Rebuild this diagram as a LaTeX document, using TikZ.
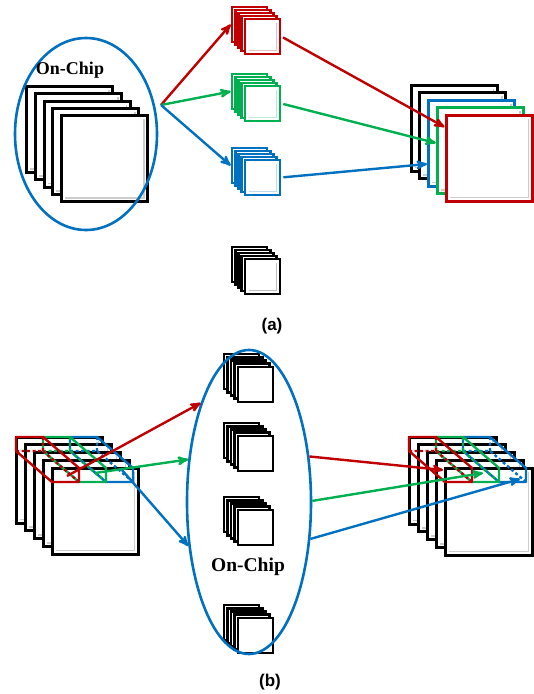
\documentclass[tikz,border=0pt]{standalone}
\usepackage{fontspec}
\usepackage{tikz}
\usetikzlibrary{arrows,shapes.geometric}
\newfontfamily\capfont{Liberation Sans}
\newfontfamily\chipfont{Liberation Serif}
\definecolor{cred}{RGB}{192,0,0}
\definecolor{cgreen}{RGB}{0,176,80}
\definecolor{cblue}{RGB}{0,112,192}
\tikzset{inshade/.style={path picture={\draw[#1,line width=1.8pt]
  ([xshift=-3.5pt,yshift=-3.5pt]path picture bounding box.north east) |-
  ([xshift=3.5pt,yshift=3.5pt]path picture bounding box.south west);}},
  inshade/.default=black!20}
\tikzstyle{fmap}  = [draw,fill=white,line width=3pt,minimum size=86pt,inner sep=0mm,inshade]
\tikzstyle{kmap}  = [draw,fill=white,line width=2.7pt,minimum size=35pt,inner sep=0mm]
\tikzstyle{chip}  = [draw=cblue,ellipse,line width=2.6pt,inner sep=0mm]
\tikzstyle{link}  = [->,>=stealth',line width=2.4pt]
\tikzstyle{hidden} = [line width=2.4pt,dash pattern=on 3pt off 2.5pt]
% one slice of the input maps: colour, top left corner of its back face
\newcommand{\featslice}[3]{%
  \draw[#1,hidden] (#2,#3+14) -- (#2+27,#3+14) -- (#2+63,#3+45) (#2+27,#3) -- (#2+27,#3+14);
  \draw[#1,line width=2.4pt,line join=round] (#2,#3) -- (#2+27,#3) -- (#2+63,#3+31)
    -- (#2+63,#3+45) -- (#2+36,#3+45) -- (#2,#3+14) -- cycle;}

\begin{document}
\begin{tikzpicture}[x=1pt,y=-1pt]
\useasboundingbox (0,0) rectangle (534,694);

% (a)
\foreach \k in {0,...,4}
  \node[fmap] (A\k) at (69.5+8.75*\k,129.5+7.25*\k) {};
\node[chip,minimum width=142pt,minimum height=192pt] (EA) at (86,134) {};
\node (chipA) at (70,70) {\chipfont\bfseries\fontsize{18}{20}\selectfont On-Chip};

\foreach \s/\c/\y in {R/cred/24.5,G/cgreen/91.5,B/cblue/165.5,K/black/264.5}
  \foreach \k in {0,...,4}
    \node[kmap,draw=\c,inshade=\c!25] (\s\k) at (249.5+3.25*\k,\y+3*\k) {};

\foreach \k/\c in {0/black,1/black,2/cblue,3/cgreen,4/cred}
  \node[fmap,draw=\c] (P\k) at (454+8.75*\k,128+7.5*\k) {};

\coordinate (F) at (161,105);
\draw[link,cred]   (F) -- (R0.west);
\draw[link,cgreen] (F) -- (G0.west);
\draw[link,cblue]  (F) -- (B0.west);
\draw[link,cred,shorten <=2pt]   (R4.east) -- ([yshift=31pt]P4.west);
\draw[link,cgreen,shorten <=2pt] (G4.east) -- ([yshift=7.5pt]P3.west);
\draw[link,cblue,shorten <=2pt]  (B4.east) -- ([yshift=-21pt]P2.west);

\node (capA) at (272,326) {\capfont\bfseries\fontsize{17}{19}\selectfont (a)};

% (b)
\foreach \k in {0,...,4}
  \node[fmap] (L\k) at (59+9*\k,480+7.75*\k) {};
\featslice{cblue}{70}{437}
\featslice{cgreen}{43}{437}
\featslice{cred}{16}{437}

\foreach \s/\y in {S/371.5,T/440.5,U/514.5,V/622.5}
  \foreach \k in {0,...,4}
    \node[kmap] (\s\k) at (241.5+3.5*\k,\y+3.25*\k) {};
\node[chip,minimum width=124pt,minimum height=304pt] (EB) at (249,502) {};
\node (chipB) at (248,567) {\chipfont\bfseries\fontsize{19.5}{22}\selectfont On-Chip};

\foreach \k in {0,...,4}
  \node[fmap,minimum size=87pt] (Q\k) at (452.5+9*\k,480.5+7.75*\k) {};
\featslice{cblue}{463}{437}
\featslice{cgreen}{436}{437}
\featslice{cred}{409}{437}

\coordinate (rin)  at (67,476);
\coordinate (gin)  at (95,473);
\coordinate (bin)  at (122,470);
\coordinate (rout) at (443,470);
\coordinate (gout) at (483,473);
\coordinate (bout) at (520,479);
\draw[link,cred]   (rin) -- (EB.116);
\draw[link,cgreen] (gin) -- (EB.145);
\draw[link,cblue]  (bin) -- (EB.216);
\draw[link,cred]   (EB.37)  -- (rout);
\draw[link,cgreen] (EB.1)   -- (gout);
\draw[link,cblue]  (EB.-31) -- (bout);

\node (capB) at (270,682) {\capfont\bfseries\fontsize{17}{19}\selectfont (b)};
\end{tikzpicture}
\end{document}
